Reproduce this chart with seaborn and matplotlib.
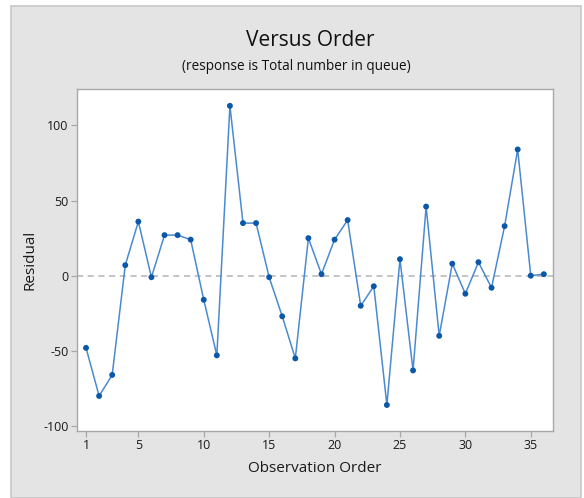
import matplotlib
matplotlib.use("Agg")
import matplotlib.pyplot as plt
from matplotlib.patches import Rectangle
import seaborn as sns
import pandas as pd

# Residuals in observation order
order = list(range(1, 37))
residual = [-48, -80, -66, 7, 36, -1, 27, 27, 24, -16, -53, 113,
            35, 35, -1, -27, -55, 25, 1, 24, 37, -20, -7, -86,
            11, -63, 46, -40, 8, -12, 9, -8, 33, 84, 0, 1]
x_ticks = [1, 5, 10, 15, 20, 25, 30, 35]
y_ticks = [-100, -50, 0, 50, 100]

df = pd.DataFrame({"Observation Order": order, "Residual": residual})

sns.set_style("white")
plt.rcParams["font.family"] = ["Open Sans", "DejaVu Sans"]
plt.rcParams["axes.unicode_minus"] = False

fig = plt.figure(figsize=(5.84, 4.98), dpi=100, facecolor="white")

# light gray graph panel behind the axes
fig.patches.append(Rectangle((11 / 584, 0), 570 / 584, 1 - 6 / 498,
                             transform=fig.transFigure, facecolor="#e4e4e4",
                             edgecolor="#c8c8c8", linewidth=1.2, zorder=-5))

ax = fig.add_axes([77 / 584, 1 - 431 / 498, (553 - 77) / 584, (431 - 89) / 498])
ax.set_zorder(1)
ax.set_facecolor("white")

ax.axhline(0, color="#b4b4b4", linestyle=(0, (4, 3)), linewidth=1.1, zorder=1)
sns.lineplot(data=df, x="Observation Order", y="Residual", ax=ax,
             color="#4a8ad0", linewidth=1.1, zorder=2)
sns.scatterplot(data=df, x="Observation Order", y="Residual", ax=ax,
                color="#0b57a8", s=18, edgecolor="none", zorder=3)

ax.set_xlim(0.31, 36.7)
ax.set_ylim(-103.3, 124.2)
ax.set_xticks(x_ticks)
ax.set_yticks(y_ticks)

for s in ax.spines.values():
    s.set_color("#a8a8a8")
    s.set_linewidth(1.0)

ax.tick_params(axis="both", which="both", direction="out", length=4, width=0.9,
               color="#a8a8a8", labelsize=9, labelcolor="#1a1a1a", pad=2,
               bottom=True, left=True)

ax.set_xlabel("Observation Order", fontsize=11, color="#1a1a1a", labelpad=6)
ax.set_ylabel("Residual", fontsize=11, color="#1a1a1a", labelpad=4)

fig.text(310 / 584, 1 - 40 / 498, "Versus Order", ha="center", va="center",
         fontsize=15, color="#111111")
fig.text(296 / 584, 1 - 67 / 498, "(response is Total number in queue)",
         ha="center", va="center", fontsize=9.8, color="#111111")

fig.savefig("out.png", dpi=100, facecolor="white")
